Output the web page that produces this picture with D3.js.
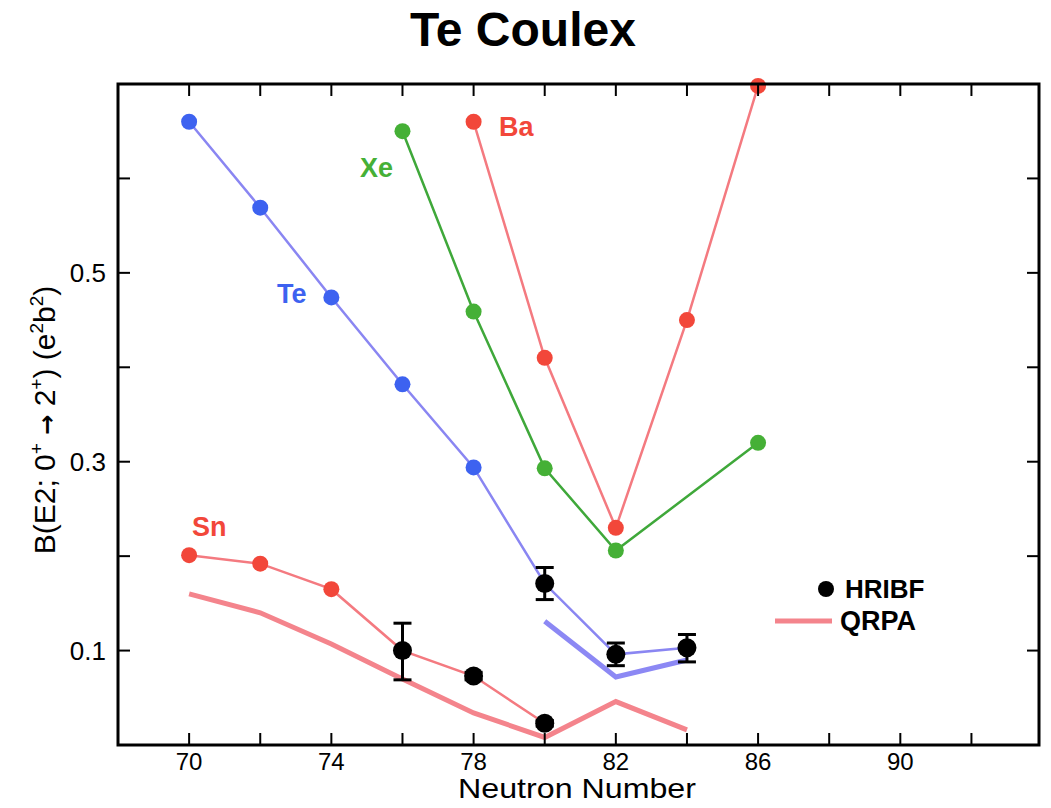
<!DOCTYPE html>
<html>
<head>
<meta charset="utf-8">
<script src="https://cdn.jsdelivr.net/npm/d3@7"></script>
<style>
  body { margin: 0; background: white; }
  text { font-family: "Liberation Sans", Arial, sans-serif; }
</style>
</head>
<body>
<div id="chart"></div>
<script>
// Datos
const teN = [70, 72, 74, 76, 78, 80, 82, 84];
const teB = [0.660, 0.569, 0.474, 0.382, 0.294, 0.171, 0.096, 0.103];
const teDots = 5; // los primeros 5 son puntos azules

const xeN = [76, 78, 80, 82, 86];
const xeB = [0.650, 0.459, 0.293, 0.206, 0.320];

const baN = [78, 80, 82, 84, 86];
const baB = [0.660, 0.410, 0.230, 0.450, 0.698];

const snN = [70, 72, 74, 76, 78, 80];
const snB = [0.201, 0.192, 0.165, 0.100, 0.073, 0.023];

const hribfN = [76, 78, 80, 80, 82, 84];
const hribfB = [0.100, 0.073, 0.023, 0.171, 0.096, 0.103];
const hribfLo = [0.069, 0.069, 0.020, 0.154, 0.084, 0.088];
const hribfHi = [0.129, 0.077, 0.026, 0.188, 0.108, 0.117];

const qrpaSnN = [70, 72, 74, 76, 78, 80, 82, 84];
const qrpaSnB = [0.160, 0.140, 0.107, 0.070, 0.034, 0.008, 0.046, 0.016];

const qrpaTeN = [80, 82, 84];
const qrpaTeB = [0.131, 0.072, 0.090];

const xTickLabels = [70, 74, 78, 82, 86, 90];
const yTickLabels = [0.1, 0.3, 0.5];

// Configuración
const width = 1051, height = 808;
const x = d3.scaleLinear().domain([68, 93.9]).range([118, 1039]);
const y = d3.scaleLinear().domain([0, 0.7]).range([745, 84]);

const svg = d3.select("#chart").append("svg")
  .attr("width", width).attr("height", height);

svg.append("rect").attr("width", width).attr("height", height).attr("fill", "white");

// Título
svg.append("text")
  .attr("x", 523).attr("y", 46)
  .attr("text-anchor", "middle")
  .style("font-size", "48px").style("font-weight", "bold")
  .text("Te Coulex");

const line = d3.line().x(d => x(d[0])).y(d => y(d[1]));
const zip = (a, b) => a.map((v, i) => [v, b[i]]);

// Curvas QRPA (gruesas)
svg.append("path").datum(zip(qrpaSnN, qrpaSnB)).attr("d", line)
  .attr("fill", "none").attr("stroke", "#f4848c").attr("stroke-width", 5);
svg.append("path").datum(zip(qrpaTeN, qrpaTeB)).attr("d", line)
  .attr("fill", "none").attr("stroke", "#8c88f4").attr("stroke-width", 5);

// Líneas finas de datos
svg.append("path").datum(zip(teN, teB)).attr("d", line)
  .attr("fill", "none").attr("stroke", "#8a86f2").attr("stroke-width", 2.5);
svg.append("path").datum(zip(xeN, xeB)).attr("d", line)
  .attr("fill", "none").attr("stroke", "#3fa83a").attr("stroke-width", 2.5);
svg.append("path").datum(zip(baN, baB)).attr("d", line)
  .attr("fill", "none").attr("stroke", "#f47a80").attr("stroke-width", 2.5);
svg.append("path").datum(zip(snN, snB)).attr("d", line)
  .attr("fill", "none").attr("stroke", "#f47a80").attr("stroke-width", 2.5);

// Puntos
function dots(xs, ys, color, n) {
  svg.append("g").selectAll("circle").data(zip(xs, ys).slice(0, n))
    .enter().append("circle")
    .attr("cx", d => x(d[0])).attr("cy", d => y(d[1]))
    .attr("r", 8).attr("fill", color);
}
dots(teN, teB, "#3d62f0", teDots);
dots(xeN, xeB, "#45b036", xeN.length);
dots(baN, baB, "#f2473a", baN.length);
dots(snN, snB, "#f2473a", 3);

// HRIBF con barras de error
const hr = svg.append("g");
hribfN.forEach((n, i) => {
  const cx = x(n);
  hr.append("line").attr("x1", cx).attr("x2", cx)
    .attr("y1", y(hribfLo[i])).attr("y2", y(hribfHi[i]))
    .attr("stroke", "black").attr("stroke-width", 3);
  [hribfLo[i], hribfHi[i]].forEach(v => {
    hr.append("line").attr("x1", cx - 9).attr("x2", cx + 9)
      .attr("y1", y(v)).attr("y2", y(v))
      .attr("stroke", "black").attr("stroke-width", 3);
  });
  hr.append("circle").attr("cx", cx).attr("cy", y(hribfB[i]))
    .attr("r", 9.5).attr("fill", "black");
});

// Etiquetas de series
const lab = (t, px, py, c) => svg.append("text").attr("x", px).attr("y", py)
  .attr("fill", c).style("font-size", "27px").style("font-weight", "bold").text(t);
lab("Te", 277, 303, "#3d62f0");
lab("Xe", 360, 177, "#45b036");
lab("Ba", 499, 136, "#f2473a");
lab("Sn", 192, 536, "#f2473a");

// Leyenda
svg.append("circle").attr("cx", 826).attr("cy", 589).attr("r", 8).attr("fill", "black");
svg.append("text").attr("x", 845).attr("y", 598)
  .style("font-size", "26px").style("font-weight", "bold").text("HRIBF");
svg.append("line").attr("x1", 775).attr("x2", 832).attr("y1", 621).attr("y2", 621)
  .attr("stroke", "#f4848c").attr("stroke-width", 5);
svg.append("text").attr("x", 840).attr("y", 630)
  .style("font-size", "27px").style("font-weight", "bold").text("QRPA");

// Marco y ticks hacia dentro
svg.append("rect").attr("x", 118).attr("y", 84).attr("width", 921).attr("height", 661)
  .attr("fill", "none").attr("stroke", "black").attr("stroke-width", 3);

const xt = d3.range(70, 93, 2);
const yt = [0.1, 0.2, 0.3, 0.4, 0.5, 0.6];
const ticks = svg.append("g").attr("stroke", "black").attr("stroke-width", 2);
xt.forEach(t => {
  ticks.append("line").attr("x1", x(t)).attr("x2", x(t)).attr("y1", 745).attr("y2", 733);
  ticks.append("line").attr("x1", x(t)).attr("x2", x(t)).attr("y1", 84).attr("y2", 96);
});
yt.forEach(t => {
  ticks.append("line").attr("x1", 118).attr("x2", 130).attr("y1", y(t)).attr("y2", y(t));
  ticks.append("line").attr("x1", 1039).attr("x2", 1027).attr("y1", y(t)).attr("y2", y(t));
});

// Etiquetas de ticks
svg.append("g").selectAll("text").data(xTickLabels).enter().append("text")
  .attr("x", d => x(d)).attr("y", 770).attr("text-anchor", "middle")
  .style("font-size", "24px").text(d => d);
svg.append("g").selectAll("text").data(yTickLabels).enter().append("text")
  .attr("x", 106).attr("y", d => y(d) + 9).attr("text-anchor", "end")
  .style("font-size", "26px").text(d => d);

// Títulos de ejes
svg.append("text").attr("x", 577).attr("y", 798).attr("text-anchor", "middle")
  .attr("textLength", 238).attr("lengthAdjust", "spacingAndGlyphs")
  .style("font-size", "28px").text("Neutron Number");

const yl = svg.append("text")
  .attr("transform", "translate(55,420) rotate(-90)")
  .attr("text-anchor", "middle").style("font-size", "30px");
const sup = t => { yl.append("tspan").attr("dy", -12).style("font-size", "19px").text(t); };
const base = t => { yl.append("tspan").attr("dy", 12).text(t); };
yl.append("tspan").text("B(E2; 0");
sup("+");
yl.append("tspan").attr("dy", 12).text(" ");
yl.append("tspan").style("font-family", "'DejaVu Sans'").style("font-weight", "bold")
  .style("font-size", "24px").text("\u2192");
yl.append("tspan").text(" 2");
sup("+");
base(")  (e");
sup("2");
base("b");
sup("2");
base(")");
</script>
</body>
</html>
